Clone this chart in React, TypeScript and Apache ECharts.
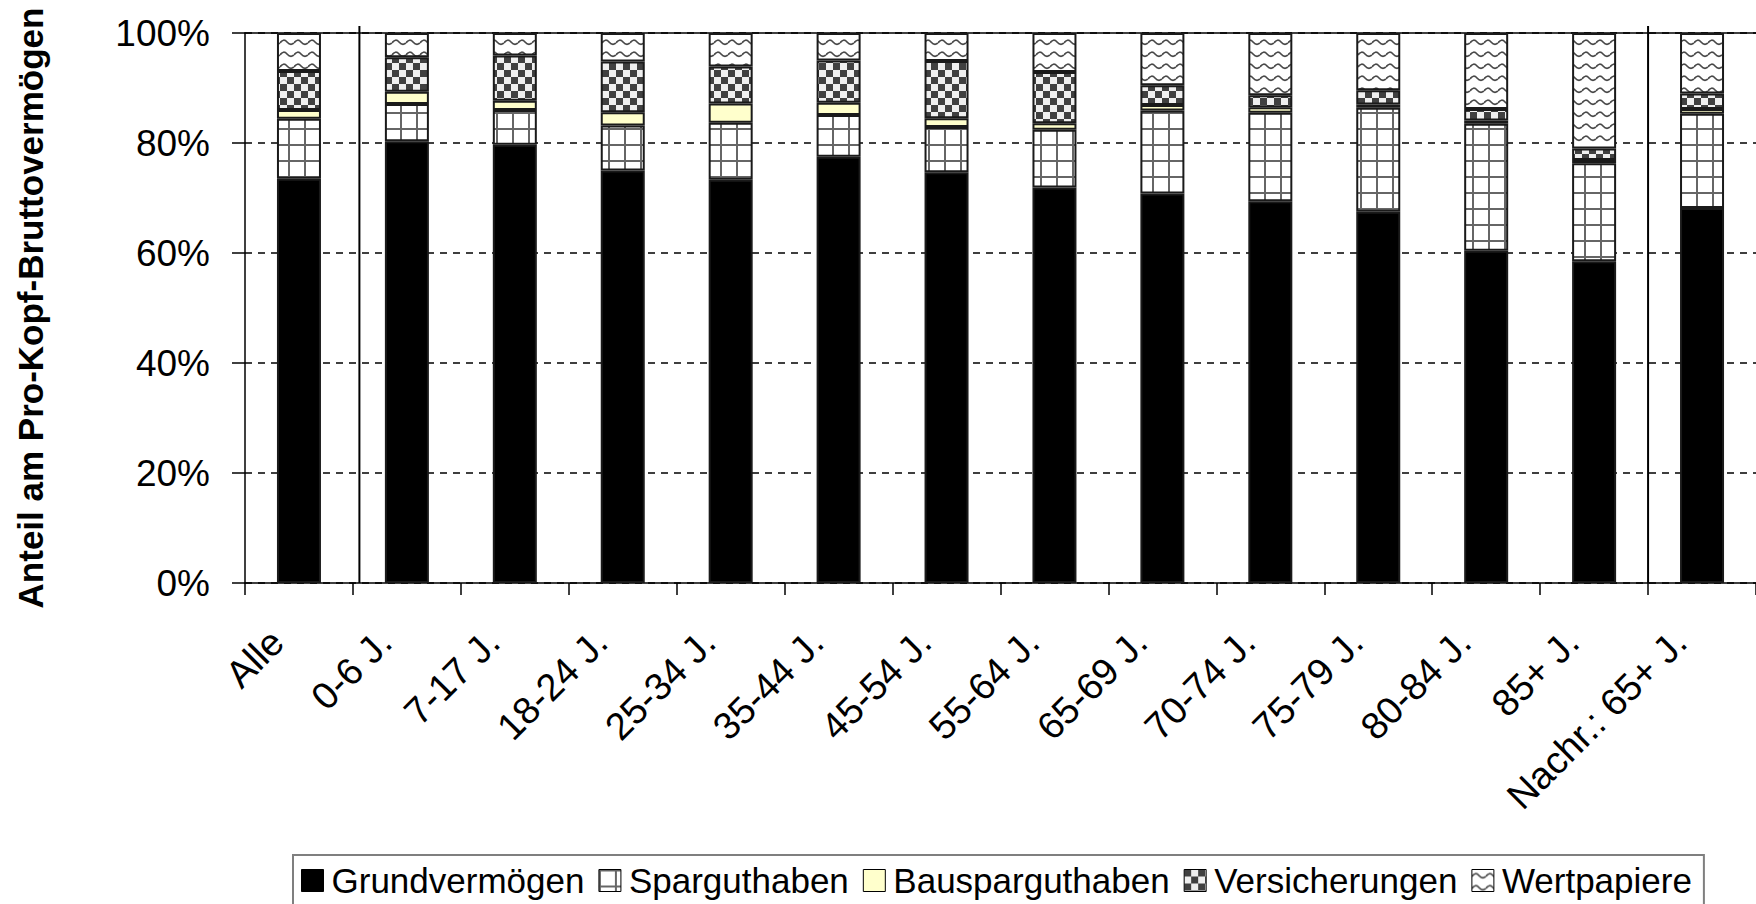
import React, { useEffect, useRef } from "react";
import * as echarts from "echarts";

const categories = [
  "Alle", "0-6 J.", "7-17 J.", "18-24 J.", "25-34 J.", "35-44 J.", "45-54 J.",
  "55-64 J.", "65-69 J.", "70-74 J.", "75-79 J.", "80-84 J.", "85+ J.", "Nachr.: 65+ J.",
];
const seriesNames = ["Grundvermögen", "Sparguthaben", "Bausparguthaben", "Versicherungen", "Wertpapiere"];
const grundvermoegen = [73.5, 80.3, 79.7, 75.0, 73.3, 77.5, 74.7, 71.9, 70.8, 69.4, 67.5, 60.4, 58.5, 68.2];
const sparguthaben = [10.9, 6.8, 6.3, 8.2, 10.4, 7.6, 8.2, 10.5, 15.1, 16.1, 18.9, 23.1, 17.8, 17.1];
const bausparguthaben = [1.6, 2.2, 1.7, 2.4, 3.5, 2.2, 1.6, 1.2, 1.0, 1.0, 0.6, 0.6, 0.6, 0.9];
const versicherungen = [7.1, 6.3, 8.2, 9.2, 6.7, 7.7, 10.4, 9.3, 3.6, 2.2, 2.6, 2.1, 2.1, 2.8];
const wertpapiere = [6.9, 4.4, 4.1, 5.2, 6.1, 5.0, 5.1, 7.1, 9.5, 11.3, 10.4, 13.8, 21.0, 11.0];
const yTicks = [0, 20, 40, 60, 80, 100];
// separator positions in category units (after "Alle" and before "Nachr.: 65+ J.")
const separators = [1.06, 13];

const FONT = "'Liberation Sans', Arial, Helvetica, sans-serif";

function makeCanvas(w: number, h: number, draw: (ctx: CanvasRenderingContext2D) => void) {
  const c = document.createElement("canvas");
  c.width = w;
  c.height = h;
  const ctx = c.getContext("2d") as CanvasRenderingContext2D;
  draw(ctx);
  return c;
}

function gridPattern() {
  return makeCanvas(16, 16, (ctx) => {
    ctx.fillStyle = "#ffffff";
    ctx.fillRect(0, 0, 16, 16);
    ctx.strokeStyle = "#666666";
    ctx.lineWidth = 2;
    ctx.beginPath();
    ctx.moveTo(1, 0);
    ctx.lineTo(1, 16);
    ctx.moveTo(0, 1);
    ctx.lineTo(16, 1);
    ctx.stroke();
  });
}

function checkerPattern() {
  return makeCanvas(14, 14, (ctx) => {
    ctx.fillStyle = "#efefef";
    ctx.fillRect(0, 0, 14, 14);
    ctx.fillStyle = "#404040";
    ctx.fillRect(0, 0, 7, 7);
    ctx.fillRect(7, 7, 7, 7);
  });
}

function wavePattern() {
  return makeCanvas(14, 12, (ctx) => {
    ctx.fillStyle = "#ffffff";
    ctx.fillRect(0, 0, 14, 12);
    ctx.strokeStyle = "#4a4a4a";
    ctx.lineWidth = 1.7;
    ctx.beginPath();
    ctx.moveTo(0, 7);
    ctx.quadraticCurveTo(3.5, 2, 7, 6);
    ctx.quadraticCurveTo(10.5, 10, 14, 7);
    ctx.stroke();
  });
}

export default function App() {
  const ref = useRef<HTMLDivElement>(null);

  useEffect(() => {
    if (!ref.current) return;
    const chart = echarts.init(ref.current, null, { renderer: "svg" });

    const fills: any[] = [
      "#000000",
      { image: gridPattern(), repeat: "repeat" },
      "#ffffcc",
      { image: checkerPattern(), repeat: "repeat" },
      { image: wavePattern(), repeat: "repeat" },
    ];
    const values = [grundvermoegen, sparguthaben, bausparguthaben, versicherungen, wertpapiere];

    chart.setOption({
      animation: false,
      backgroundColor: "#ffffff",
      textStyle: { fontFamily: FONT },
      grid: { left: 245, top: 33, width: 1515, height: 550, containLabel: false },
      legend: {
        left: 293,
        top: 855,
        orient: "horizontal",
        icon: "rect",
        itemWidth: 22,
        itemHeight: 22,
        itemGap: 14,
        padding: [8, 12, 8, 8],
        borderColor: "#7f7f7f",
        borderWidth: 2,
        itemStyle: { borderColor: "#000", borderWidth: 1 },
        textStyle: { fontSize: 35, color: "#000", fontFamily: FONT, padding: [0, 0, 0, 3] },
        data: seriesNames,
      },
      xAxis: [
        {
          type: "category",
          data: categories,
          position: "bottom",
          axisLine: { show: true, lineStyle: { color: "#000", width: 1.5 } },
          axisTick: { show: true, length: 12, interval: 0, alignWithLabel: false, lineStyle: { color: "#000", width: 1.5 } },
          axisLabel: {
            interval: 0,
            rotate: 45,
            fontSize: 38,
            color: "#000",
            fontFamily: FONT,
            margin: 31,
            padding: [0, 31, 0, 0],
          },
          splitLine: { show: false },
        },
        {
          type: "value",
          min: 0,
          max: categories.length,
          position: "top",
          axisLine: { show: true, onZero: false, lineStyle: { color: "#000", width: 1.5 } },
          axisTick: { show: false },
          axisLabel: { show: false },
          splitLine: { show: false },
        },
      ],
      yAxis: {
        type: "value",
        min: yTicks[0],
        max: yTicks[yTicks.length - 1],
        interval: 20,
        name: "Anteil am Pro-Kopf-Bruttovermögen",
        nameLocation: "middle",
        nameGap: 197,
        nameTextStyle: { fontSize: 35, fontWeight: "bold", color: "#000", fontFamily: FONT },
        axisLine: { show: true, lineStyle: { color: "#000", width: 1.5 } },
        axisTick: { show: true, length: 13, lineStyle: { color: "#000", width: 1.5 } },
        axisLabel: { formatter: "{value}%", fontSize: 37, color: "#000", fontFamily: FONT, margin: 35 },
        splitLine: { show: true, lineStyle: { color: "#000", width: 1.5, type: [7, 6] } },
      },
      series: seriesNames.map((name, i) => ({
        name,
        type: "bar",
        stack: "total",
        xAxisIndex: 0,
        barWidth: 44,
        itemStyle: { color: fills[i], borderColor: "#1a1a1a", borderWidth: 2 },
        emphasis: { disabled: true },
        data: values[i],
      })),
    });

    const yTop = chart.convertToPixel({ yAxisIndex: 0 }, yTicks[yTicks.length - 1]) as number;
    const yBottom = chart.convertToPixel({ yAxisIndex: 0 }, yTicks[0]) as number;
    chart.setOption({
      graphic: separators.map((s) => {
        const x = chart.convertToPixel({ xAxisIndex: 1 }, s) as number;
        return {
          type: "line",
          shape: { x1: x, y1: yTop - 7, x2: x, y2: yBottom },
          style: { stroke: "#000", lineWidth: 2 },
          z: 10,
        };
      }),
    });

    return () => chart.dispose();
  }, []);

  return (
    <div
      ref={ref}
      style={{ position: "fixed", left: 0, top: 0, width: 1756, height: 904, background: "#fff" }}
    />
  );
}
